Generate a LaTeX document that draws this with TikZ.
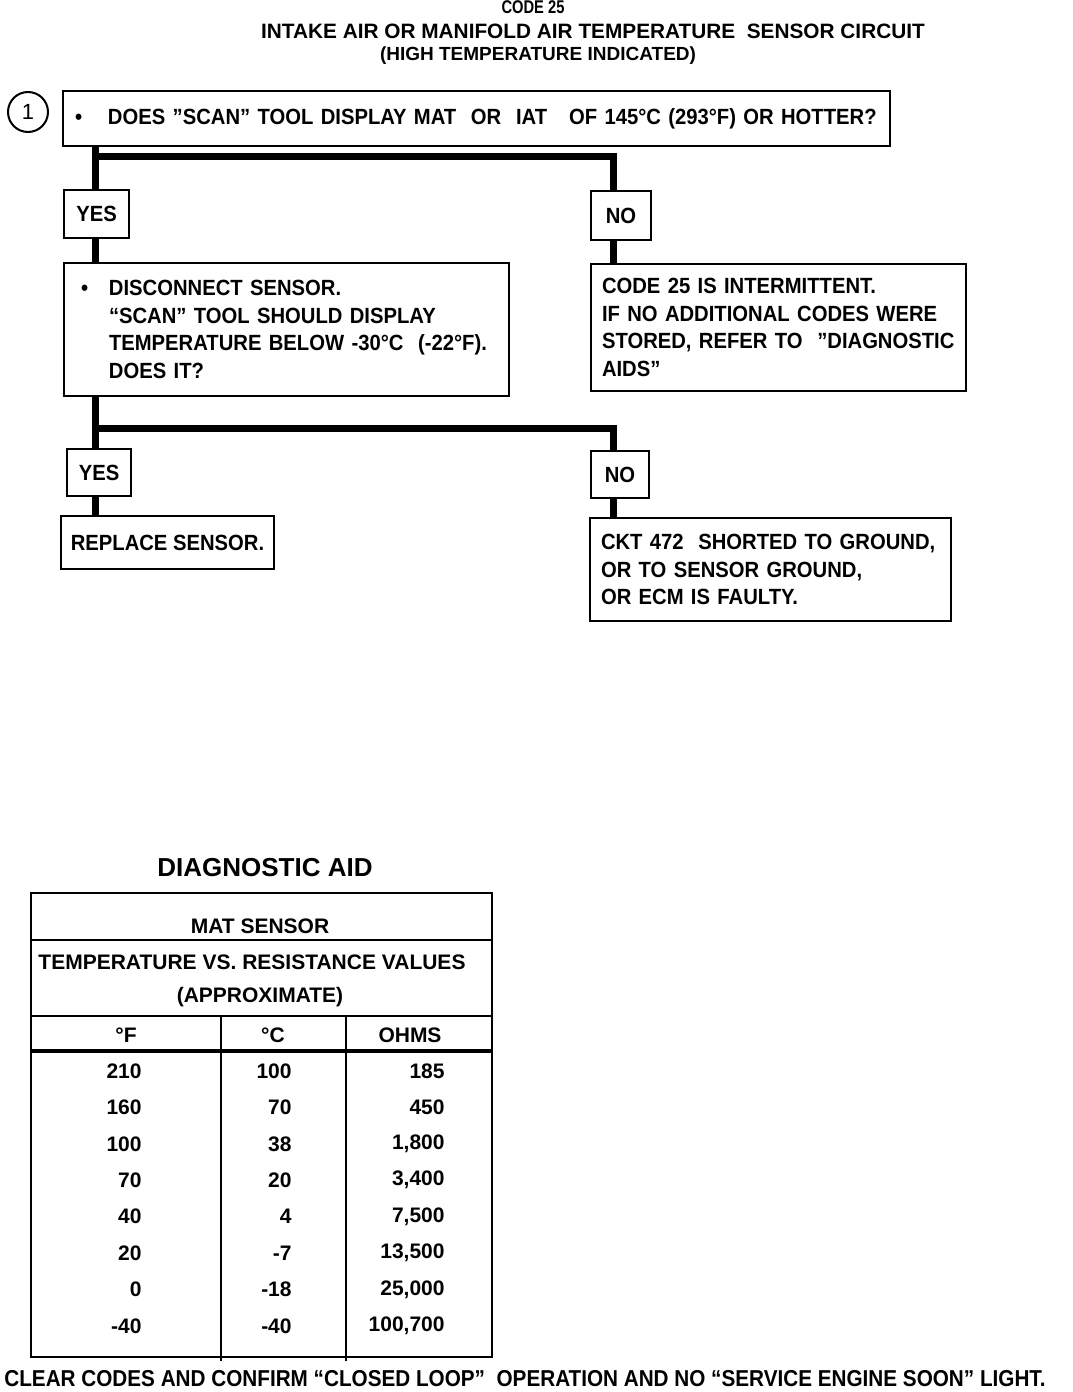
\documentclass[tikz,border=0pt]{standalone}
\usepackage{fontspec}
\setmainfont{Liberation Sans}
\newfontfamily\condfont[FakeStretch=0.92]{Liberation Sans}
\newfontfamily\footfont[FakeStretch=0.9]{Liberation Sans}
\newfontfamily\codefont[FakeStretch=0.8]{Liberation Sans}
\usetikzlibrary{positioning}

\begin{document}
\begin{tikzpicture}[x=0.5pt,y=-0.5pt,
  every node/.style={font=\condfont\bfseries\fontsize{11}{13.85}\selectfont},
  box/.style={draw,line width=1pt,anchor=north west,align=left,inner ysep=0pt},
  tag/.style={draw,line width=1pt,anchor=north west,inner sep=0pt},
  wire/.style={line width=3.5pt},
  grid/.style={line width=1.2pt},
  cell/.style={font=\bfseries\fontsize{10.5}{12}\selectfont},
  num/.style={cell,anchor=east,inner xsep=0pt}]
\useasboundingbox (0,0) rectangle (1072,1392);

% heading
\node[font=\codefont\bfseries\fontsize{9.2}{10}\selectfont] (code) at (533,7) {CODE 25};
\node[font=\bfseries\fontsize{10.4}{12}\selectfont] (title) at (593,31) {INTAKE AIR OR MANIFOLD AIR TEMPERATURE\ \ SENSOR CIRCUIT};
\node[font=\bfseries\fontsize{9.5}{12}\selectfont] (subtitle) at (538,56) {(HIGH TEMPERATURE INDICATED)};

% step 1
\node[draw,circle,line width=1pt,minimum size=20pt,inner sep=0pt,font=\fontsize{11}{12}\selectfont] (one) at (28,112) {1};
\node[box,inner xsep=6pt,text width=401.5pt,minimum height=27.5pt] (q1) at (62,90)
  {\makebox[16.5pt][l]{\textbullet}DOES ”SCAN” TOOL DISPLAY MAT\ \ OR\ \ IAT\ \ \ OF 145°C (293°F) OR HOTTER?};
\node[tag,minimum width=32.5pt,minimum height=24pt] (yes1) at (63,189) {YES};
\node[tag,minimum width=30pt,minimum height=24.5pt] (no1) at (590,190) {NO};
\node[box,inner xsep=8.5pt,text width=205.5pt,minimum height=66.5pt] (q2) at (63,262)
  {\makebox[14pt][l]{\textbullet}DISCONNECT SENSOR.\\
   \hspace*{14pt}“SCAN” TOOL SHOULD DISPLAY\\
   \hspace*{14pt}TEMPERATURE BELOW -30°C\ \ (-22°F).\\
   \hspace*{14pt}DOES IT?};
\node[box,inner xsep=5.5pt,text width=176.5pt,minimum height=63.5pt] (note) at (590,263)
  {CODE 25 IS INTERMITTENT.\\
   IF NO ADDITIONAL CODES WERE\\
   STORED, REFER TO\ \ ”DIAGNOSTIC\\
   AIDS”};
\node[tag,minimum width=32pt,minimum height=23.5pt] (yes2) at (66,448) {YES};
\node[tag,minimum width=29pt,minimum height=23.5pt] (no2) at (590,450) {NO};
\node[tag,minimum width=106.5pt,minimum height=26.5pt] (fix) at (60,515) {REPLACE SENSOR.};
\node[box,inner xsep=5.5pt,text width=169.5pt,minimum height=51.5pt] (ckt) at (589,517)
  {CKT 472\ \ SHORTED TO GROUND,\\
   OR TO SENSOR GROUND,\\
   OR ECM IS FAULTY.};

\coordinate (split1) at (95,156);
\coordinate (split2) at (95,428);
\draw[wire] (q1.south -| split1) -- (yes1.north -| split1);
\draw[wire] (split1) -| ([xshift=-4pt]no1.north);
\draw[wire] (yes1.south -| split1) -- (q2.north -| split1);
\draw[wire] ([xshift=-4pt]no1.south) -- ([xshift=-4pt]no1.south |- note.north);
\draw[wire] (q2.south -| split2) -- (yes2.north -| split2);
\draw[wire] (split2) -| ([xshift=-3.5pt]no2.north);
\draw[wire] (yes2.south -| split2) -- (fix.north -| split2);
\draw[wire] ([xshift=-3.5pt]no2.south) -- ([xshift=-3.5pt]no2.south |- ckt.north);

% diagnostic aid table
\node[font=\bfseries\fontsize{13}{15}\selectfont] (aid) at (265,868) {DIAGNOSTIC AID};
\draw[grid] (31,893) rectangle (492,1357);
\draw[grid] (31,940) -- (492,940);
\draw[grid] (31,1016) -- (492,1016);
\draw[line width=1.8pt] (31,1051) -- (492,1051);
\draw[grid] (221,1016) -- (221,1361);
\draw[grid] (346,1016) -- (346,1361);
\node[cell] (mat) at (260,926) {MAT SENSOR};
\node[cell] (vs) at (252,962) {TEMPERATURE VS. RESISTANCE VALUES};
\node[cell] (approx) at (260,997) {(APPROXIMATE)};
\node[cell] (degf) at (126,1035) {°F};
\node[cell] (degc) at (273,1035) {°C};
\node[cell] (ohms) at (410,1035) {OHMS};
\foreach \f/\c/\r [count=\i] in {210/100/185,160/70/450,100/38/{1,800},70/20/{3,400},
    40/4/{7,500},20/-7/{13,500},0/-18/{25,000},-40/-40/{100,700}}{
  \node[num] (f\i) at (142,{1071+36.4*(\i-1)}) {\f};
  \node[num] (c\i) at (292,{1071+36.4*(\i-1)}) {\c};
  \node[num] (r\i) at (445,{1071+36.4*(\i-1)}) {\r};
}

\node[font=\footfont\bfseries\fontsize{11.5}{14}\selectfont] (clear) at (525,1379)
  {CLEAR CODES AND CONFIRM “CLOSED LOOP”\ \ OPERATION AND NO “SERVICE ENGINE SOON” LIGHT.};
\end{tikzpicture}
\end{document}
